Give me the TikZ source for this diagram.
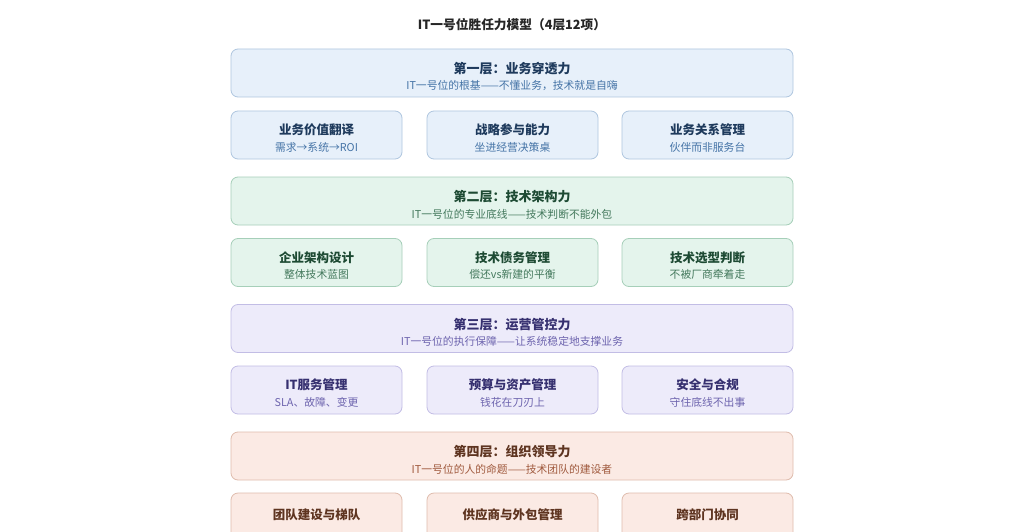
\documentclass[tikz,border=0pt]{standalone}
\usepackage{fontspec}
\setmainfont{Noto Sans CJK SC}
\definecolor{bfill}{HTML}{E7F0FA}\definecolor{bdraw}{HTML}{AFC6DF}\definecolor{btxt}{HTML}{1E3A5C}\definecolor{bsub}{HTML}{4473A6}
\definecolor{gfill}{HTML}{E4F4EC}\definecolor{gdraw}{HTML}{A6CFB9}\definecolor{gtxt}{HTML}{1D4A33}\definecolor{gsub}{HTML}{44795D}
\definecolor{pfill}{HTML}{EDEBFA}\definecolor{pdraw}{HTML}{C2BDE5}\definecolor{ptxt}{HTML}{363070}\definecolor{psub}{HTML}{6D64AE}
\definecolor{ofill}{HTML}{FBEAE4}\definecolor{odraw}{HTML}{DFBCAD}\definecolor{otxt}{HTML}{5E3420}\definecolor{osub}{HTML}{A05A3E}
\tikzset{
  box/.style={rounded corners=7pt, line width=0.8pt, minimum height=48pt, inner sep=0pt},
  layerbox/.style={box, minimum width=562pt},
  itembox/.style={box, minimum width=171pt},
  ttl/.style={font=\bfseries\fontsize{12.5}{14}\selectfont},
  lttl/.style={font=\bfseries\fontsize{13}{15}\selectfont},
  subt/.style={font=\fontsize{10.8}{12}\selectfont},
  blue/.style={fill=bfill, draw=bdraw}, green/.style={fill=gfill, draw=gdraw},
  purple/.style={fill=pfill, draw=pdraw}, orange/.style={fill=ofill, draw=odraw},
}
\begin{document}
\begin{tikzpicture}[x=1pt,y=-1pt]
\useasboundingbox[fill=white] (0,0) rectangle (1024,532);
\node[font=\bfseries\fontsize{12.7}{14}\selectfont, text=black!85] (title) at (512,25) {IT一号位胜任力模型（4层12项）};
% Layer 1
\node[layerbox, blue] (L1) at (512,73) {};
\node[lttl, text=btxt] (L1t) at (512,69) {第一层：业务穿透力};
\node[subt, text=bsub] (L1s) at (512,86) {IT一号位的根基——不懂业务，技术就是自嗨};
\node[itembox, blue] (A1) at (316.5,135) {};
\node[itembox, blue] (A2) at (512.5,135) {};
\node[itembox, blue] (A3) at (707.5,135) {};
\node[ttl, text=btxt] (A1t) at (316.5,130) {业务价值翻译};
\node[subt, text=bsub] (A1s) at (316.5,147) {需求→系统→ROI};
\node[ttl, text=btxt] (A2t) at (512.5,130) {战略参与能力};
\node[subt, text=bsub] (A2s) at (512.5,147) {坐进经营决策桌};
\node[ttl, text=btxt] (A3t) at (707.5,130) {业务关系管理};
\node[subt, text=bsub] (A3s) at (707.5,147) {伙伴而非服务台};
% Layer 2
\node[layerbox, green] (L2) at (512,201) {};
\node[lttl, text=gtxt] (L2t) at (512,197) {第二层：技术架构力};
\node[subt, text=gsub] (L2s) at (512,214) {IT一号位的专业底线——技术判断不能外包};
\node[itembox, green] (B1) at (316.5,262.5) {};
\node[itembox, green] (B2) at (512.5,262.5) {};
\node[itembox, green] (B3) at (707.5,262.5) {};
\node[ttl, text=gtxt] (B1t) at (316.5,257.5) {企业架构设计};
\node[subt, text=gsub] (B1s) at (316.5,274.5) {整体技术蓝图};
\node[ttl, text=gtxt] (B2t) at (512.5,257.5) {技术债务管理};
\node[subt, text=gsub] (B2s) at (512.5,274.5) {偿还vs新建的平衡};
\node[ttl, text=gtxt] (B3t) at (707.5,257.5) {技术选型判断};
\node[subt, text=gsub] (B3s) at (707.5,274.5) {不被厂商牵着走};
% Layer 3
\node[layerbox, purple] (L3) at (512,328.5) {};
\node[lttl, text=ptxt] (L3t) at (512,324.5) {第三层：运营管控力};
\node[subt, text=psub] (L3s) at (512,341.5) {IT一号位的执行保障——让系统稳定地支撑业务};
\node[itembox, purple] (C1) at (316.5,390) {};
\node[itembox, purple] (C2) at (512.5,390) {};
\node[itembox, purple] (C3) at (707.5,390) {};
\node[ttl, text=ptxt] (C1t) at (316.5,385) {IT服务管理};
\node[subt, text=psub] (C1s) at (316.5,402) {SLA、故障、变更};
\node[ttl, text=ptxt] (C2t) at (512.5,385) {预算与资产管理};
\node[subt, text=psub] (C2s) at (512.5,402) {钱花在刀刃上};
\node[ttl, text=ptxt] (C3t) at (707.5,385) {安全与合规};
\node[subt, text=psub] (C3s) at (707.5,402) {守住底线不出事};
% Layer 4
\node[layerbox, orange] (L4) at (512,456) {};
\node[lttl, text=otxt] (L4t) at (512,452) {第四层：组织领导力};
\node[subt, text=osub] (L4s) at (512,469) {IT一号位的人的命题——技术团队的建设者};
\node[itembox, orange] (D1) at (316.5,517) {};
\node[itembox, orange] (D2) at (512.5,517) {};
\node[itembox, orange] (D3) at (707.5,517) {};
\node[ttl, text=otxt] (D1t) at (316.5,515) {团队建设与梯队};
\node[ttl, text=otxt] (D2t) at (512.5,515) {供应商与外包管理};
\node[ttl, text=otxt] (D3t) at (707.5,515) {跨部门协同};
\end{tikzpicture}
\end{document}
